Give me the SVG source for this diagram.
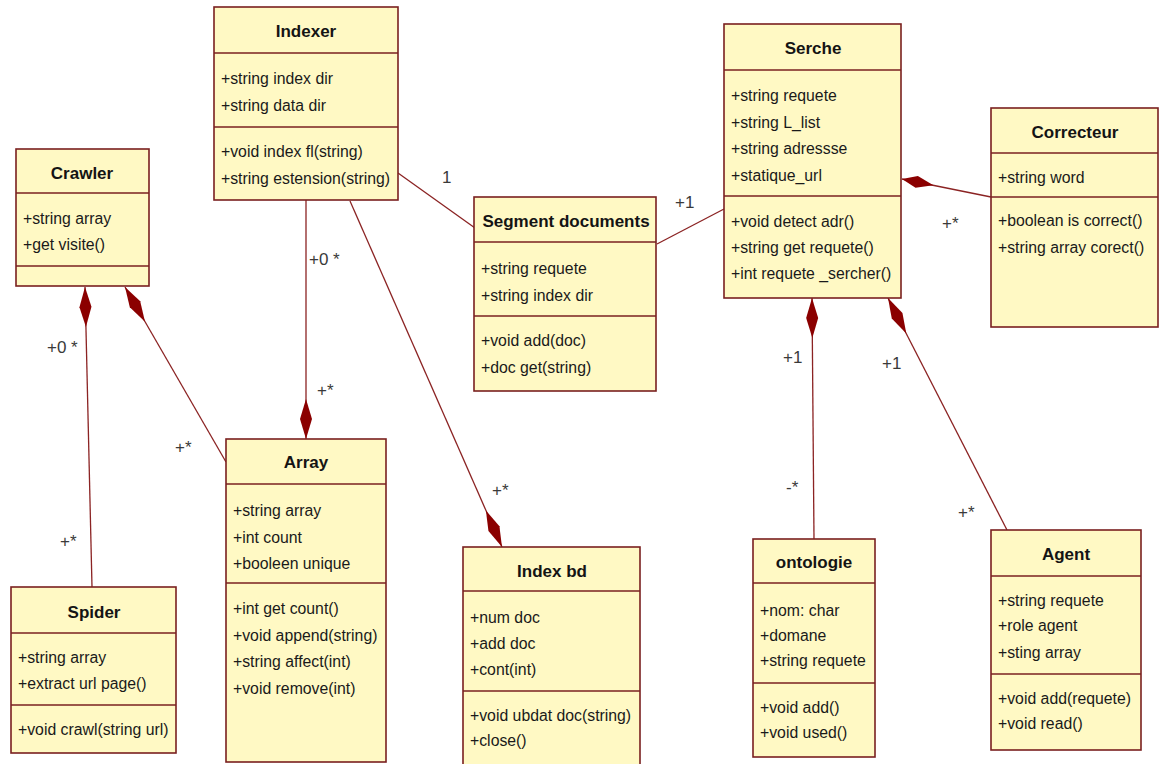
<svg xmlns="http://www.w3.org/2000/svg" width="1162" height="764" viewBox="0 0 1162 764">
  <style>
    .box { fill: #fff9c4; stroke: #7a2020; stroke-width: 1.6; }
    .div { stroke: #7a2020; stroke-width: 1.6; }
    .title { font-family: "Liberation Sans", Arial, sans-serif; font-size: 17px; font-weight: bold; fill: #141414; text-anchor: middle; }
    .item { font-family: "Liberation Sans", Arial, sans-serif; font-size: 15.8px; fill: #1a1a1a; }
    .conn { fill: none; stroke: #8b2323; stroke-width: 1.3; }
    .mult { font-family: "Liberation Sans", Arial, sans-serif; font-size: 17px; fill: #3a3a3a; }
  </style>
  <defs>
    <marker id="comp" markerUnits="userSpaceOnUse" markerWidth="42" markerHeight="14" viewBox="-1 -7 42 14" refX="0" refY="0" orient="auto">
      <path d="M0,0 L20,-6 L40,0 L20,6 Z" fill="#8b0000"/>
    </marker>
    <marker id="compSmall" markerUnits="userSpaceOnUse" markerWidth="36" markerHeight="14" viewBox="-1 -7 36 14" refX="0" refY="0" orient="auto">
      <path d="M0,0 L15,-6 L32,0 L15,6 Z" fill="#8b0000"/>
    </marker>
  </defs>
  <rect width="1162" height="764" fill="#ffffff"/>

  <!-- associations and compositions -->
  <g id="connectors">
    <path class="conn" d="M398,173 L475,228"/>
    <path class="conn" d="M657,244 L724,209"/>
    <path class="conn" d="M902,179 L991,197" marker-start="url(#compSmall)"/>
    <path class="conn" d="M812,298 L814,539" marker-start="url(#comp)"/>
    <path class="conn" d="M888,298 L1007,530" marker-start="url(#comp)"/>
    <path class="conn" d="M306,439 L306,200" marker-start="url(#comp)"/>
    <path class="conn" d="M502,547 L350,201" marker-start="url(#comp)"/>
    <path class="conn" d="M85,287 L92,587" marker-start="url(#comp)"/>
    <path class="conn" d="M125,287 L226,462" marker-start="url(#comp)"/>

    <text class="mult" x="442" y="183">1</text>
    <text class="mult" x="675" y="208">+1</text>
    <text class="mult" x="942" y="229">+*</text>
    <text class="mult" x="783" y="363">+1</text>
    <text class="mult" x="882" y="369">+1</text>
    <text class="mult" x="786" y="493">-*</text>
    <text class="mult" x="958" y="518">+*</text>
    <text class="mult" x="309" y="265">+0 *</text>
    <text class="mult" x="317" y="396">+*</text>
    <text class="mult" x="492" y="496">+*</text>
    <text class="mult" x="47" y="353">+0 *</text>
    <text class="mult" x="60" y="547">+*</text>
    <text class="mult" x="175" y="453">+*</text>
  </g>

  <g id="indexer">
    <rect class="box" x="214" y="7" width="184" height="193"/>
    <line class="div" x1="214" y1="53" x2="398" y2="53"/>
    <line class="div" x1="214" y1="127" x2="398" y2="127"/>
    <text class="title" x="306" y="37">Indexer</text>
    <text class="item" x="221" y="84">+string index dir</text>
    <text class="item" x="221" y="111">+string data dir</text>
    <text class="item" x="221" y="157">+void index fl(string)</text>
    <text class="item" x="221" y="184">+string estension(string)</text>
  </g>

  <g id="crawler">
    <rect class="box" x="16" y="149" width="133" height="137"/>
    <line class="div" x1="16" y1="193" x2="149" y2="193"/>
    <line class="div" x1="16" y1="266" x2="149" y2="266"/>
    <text class="title" x="82" y="179">Crawler</text>
    <text class="item" x="23" y="224">+string array</text>
    <text class="item" x="23" y="250">+get visite()</text>
  </g>

  <g id="spider">
    <rect class="box" x="11" y="587" width="165" height="166"/>
    <line class="div" x1="11" y1="633" x2="176" y2="633"/>
    <line class="div" x1="11" y1="705" x2="176" y2="705"/>
    <text class="title" x="94" y="618">Spider</text>
    <text class="item" x="18" y="663">+string array</text>
    <text class="item" x="18" y="689">+extract url page()</text>
    <text class="item" x="18" y="735">+void crawl(string url)</text>
  </g>

  <g id="array">
    <rect class="box" x="226" y="439" width="160" height="323"/>
    <line class="div" x1="226" y1="484" x2="386" y2="484"/>
    <line class="div" x1="226" y1="583" x2="386" y2="583"/>
    <text class="title" x="306" y="468">Array</text>
    <text class="item" x="233" y="516">+string array</text>
    <text class="item" x="233" y="543">+int count</text>
    <text class="item" x="233" y="569">+booleen unique</text>
    <text class="item" x="233" y="614">+int get count()</text>
    <text class="item" x="233" y="641">+void append(string)</text>
    <text class="item" x="233" y="667">+string affect(int)</text>
    <text class="item" x="233" y="694">+void remove(int)</text>
  </g>

  <g id="index-bd">
    <rect class="box" x="463" y="547" width="177" height="230"/>
    <line class="div" x1="463" y1="591" x2="640" y2="591"/>
    <line class="div" x1="463" y1="691" x2="640" y2="691"/>
    <text class="title" x="552" y="577">Index bd</text>
    <text class="item" x="470" y="623">+num doc</text>
    <text class="item" x="470" y="649">+add doc</text>
    <text class="item" x="470" y="675">+cont(int)</text>
    <text class="item" x="470" y="721">+void ubdat doc(string)</text>
    <text class="item" x="470" y="746">+close()</text>
  </g>

  <g id="segment-documents">
    <rect class="box" x="474" y="197" width="182" height="194"/>
    <line class="div" x1="474" y1="242" x2="656" y2="242"/>
    <line class="div" x1="474" y1="316" x2="656" y2="316"/>
    <text class="title" x="566" y="227">Segment documents</text>
    <text class="item" x="481" y="274">+string requete</text>
    <text class="item" x="481" y="301">+string index dir</text>
    <text class="item" x="481" y="346">+void add(doc)</text>
    <text class="item" x="481" y="373">+doc get(string)</text>
  </g>

  <g id="serche">
    <rect class="box" x="724" y="24" width="177" height="274"/>
    <line class="div" x1="724" y1="70" x2="901" y2="70"/>
    <line class="div" x1="724" y1="196" x2="901" y2="196"/>
    <text class="title" x="813" y="54">Serche</text>
    <text class="item" x="731" y="101">+string requete</text>
    <text class="item" x="731" y="128">+string L_list</text>
    <text class="item" x="731" y="154">+string adressse</text>
    <text class="item" x="731" y="181">+statique_url</text>
    <text class="item" x="731" y="227">+void detect adr()</text>
    <text class="item" x="731" y="253">+string get requete()</text>
    <text class="item" x="731" y="279">+int requete _sercher()</text>
  </g>

  <g id="correcteur">
    <rect class="box" x="991" y="108" width="167" height="219"/>
    <line class="div" x1="991" y1="153" x2="1158" y2="153"/>
    <line class="div" x1="991" y1="197" x2="1158" y2="197"/>
    <text class="title" x="1075" y="138">Correcteur</text>
    <text class="item" x="998" y="183">+string word</text>
    <text class="item" x="998" y="226">+boolean is correct()</text>
    <text class="item" x="998" y="253">+string array corect()</text>
  </g>

  <g id="ontologie">
    <rect class="box" x="753" y="539" width="122" height="218"/>
    <line class="div" x1="753" y1="583" x2="875" y2="583"/>
    <line class="div" x1="753" y1="683" x2="875" y2="683"/>
    <text class="title" x="814" y="568">ontologie</text>
    <text class="item" x="760" y="616">+nom: char</text>
    <text class="item" x="760" y="641">+domane</text>
    <text class="item" x="760" y="666">+string requete</text>
    <text class="item" x="760" y="713">+void add()</text>
    <text class="item" x="760" y="738">+void used()</text>
  </g>

  <g id="agent">
    <rect class="box" x="991" y="530" width="150" height="220"/>
    <line class="div" x1="991" y1="576" x2="1141" y2="576"/>
    <line class="div" x1="991" y1="674" x2="1141" y2="674"/>
    <text class="title" x="1066" y="560">Agent</text>
    <text class="item" x="998" y="606">+string requete</text>
    <text class="item" x="998" y="631">+role agent</text>
    <text class="item" x="998" y="658">+sting array</text>
    <text class="item" x="998" y="704">+void add(requete)</text>
    <text class="item" x="998" y="729">+void read()</text>
  </g>
</svg>
